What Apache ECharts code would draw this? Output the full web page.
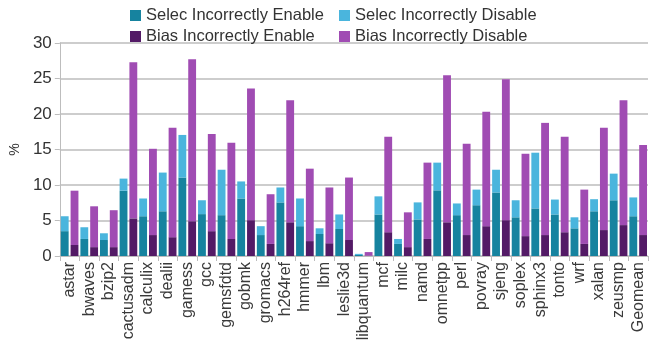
<!DOCTYPE html>
<html>
<head>
<meta charset="utf-8">
<script src="https://cdn.jsdelivr.net/npm/echarts@6/dist/echarts.min.js"></script>
<style>
  html, body { margin: 0; padding: 0; background: #fff; }
  #chart { width: 650px; height: 353px; }
</style>
</head>
<body>
<div id="chart"></div>
<script>
// SPEC benchmarks
const categories = ['astar', 'bwaves', 'bzip2', 'cactusadm', 'calculix', 'dealii', 'gamess', 'gcc',
  'gemsfdtd', 'gobmk', 'gromacs', 'h264ref', 'hmmer', 'lbm', 'leslie3d', 'libquantum', 'mcf', 'milc',
  'namd', 'omnetpp', 'perl', 'povray', 'sjeng', 'soplex', 'sphinx3', 'tonto', 'wrf', 'xalan', 'zeusmp', 'Geomean'];

// Misprediction rates (%), stacked per predictor
const selecEnable = [3.5, 2.4, 2.25, 9.2, 5.6, 6.3, 11.05, 5.9, 5.75, 8.1, 2.95, 7.55, 4.2, 3.1, 3.8,
  0.15, 5.85, 1.7, 5.15, 9.25, 5.75, 7.15, 8.95, 5.45, 6.7, 5.85, 3.9, 6.3, 7.85, 5.6];
const selecDisable = [2.1, 1.65, 0.95, 1.7, 2.5, 5.45, 6.0, 1.95, 6.4, 2.4, 1.25, 2.1, 3.9, 0.8, 2.05,
  0.15, 2.55, 0.7, 2.4, 3.9, 1.65, 2.2, 3.2, 2.4, 7.85, 2.1, 1.55, 1.7, 3.75, 2.65];
const biasEnable = [1.55, 1.25, 1.25, 5.3, 2.95, 2.65, 4.9, 3.5, 2.4, 5.05, 1.7, 4.75, 2.1, 1.8, 2.25,
  0.05, 3.35, 1.25, 2.4, 4.75, 2.95, 4.2, 5.05, 2.8, 2.95, 3.35, 1.7, 3.65, 4.35, 2.95];
const biasDisable = [7.65, 5.75, 5.2, 22.0, 12.15, 15.4, 22.8, 13.7, 13.55, 18.55, 7.0, 17.2, 10.2, 7.85, 8.8,
  0.5, 13.45, 4.9, 10.75, 20.7, 12.85, 16.1, 19.85, 11.6, 15.8, 13.45, 7.65, 14.4, 17.6, 12.7];

const yTicks = [0, 5, 10, 15, 20, 25, 30];

const FONT = "'Liberation Sans', Arial, sans-serif";
const TEXT = '#333';

const chart = echarts.init(document.getElementById('chart'), null, { renderer: 'canvas' });

const legendText = { fontFamily: FONT, fontSize: 16.5, color: TEXT };

chart.setOption({
  animation: false,
  textStyle: { fontFamily: FONT },
  legend: [
    {
      orient: 'vertical', left: 130, top: 7, icon: 'rect', itemWidth: 11, itemHeight: 11, itemGap: 4,
      textStyle: legendText, padding: 0,
      data: ['Selec Incorrectly Enable', 'Bias Incorrectly Enable']
    },
    {
      orient: 'vertical', left: 339, top: 7, icon: 'rect', itemWidth: 11, itemHeight: 11, itemGap: 4,
      textStyle: legendText, padding: 0,
      data: ['Selec Incorrectly Disable', 'Bias Incorrectly Disable']
    }
  ],
  grid: { left: 48, right: 2, top: 43, bottom: 97, containLabel: false },
  xAxis: {
    type: 'category',
    data: categories,
    axisLine: { lineStyle: { color: '#bdbdbd', width: 1 } },
    axisTick: { show: true, length: 5, lineStyle: { color: '#bdbdbd' } },
    axisLabel: { rotate: 90, interval: 0, fontSize: 16, color: '#3a3a3a', fontFamily: FONT, margin: 6 }
  },
  yAxis: {
    type: 'value',
    min: yTicks[0], max: yTicks[yTicks.length - 1], interval: 5,
    name: '%', nameLocation: 'middle', nameRotate: 90, nameGap: 33,
    nameTextStyle: { fontSize: 14, color: TEXT, fontFamily: FONT },
    axisLine: { show: true, lineStyle: { color: '#bdbdbd', width: 1 } },
    axisTick: { show: true, length: 5, lineStyle: { color: '#bdbdbd' } },
    axisLabel: { fontSize: 17, color: TEXT, fontFamily: FONT, margin: 8 },
    splitLine: { lineStyle: { color: '#cdcdcd', width: 2 } }
  },
  series: [
    { name: 'Selec Incorrectly Enable', type: 'bar', stack: 'selec', data: selecEnable,
      itemStyle: { color: '#16839f' }, barGap: '25%', barCategoryGap: '10%' },
    { name: 'Selec Incorrectly Disable', type: 'bar', stack: 'selec', data: selecDisable,
      itemStyle: { color: '#4ab5dd' } },
    { name: 'Bias Incorrectly Enable', type: 'bar', stack: 'bias', data: biasEnable,
      itemStyle: { color: '#531a66' } },
    { name: 'Bias Incorrectly Disable', type: 'bar', stack: 'bias', data: biasDisable,
      itemStyle: { color: '#a04cb3' } }
  ]
});
</script>
</body>
</html>
